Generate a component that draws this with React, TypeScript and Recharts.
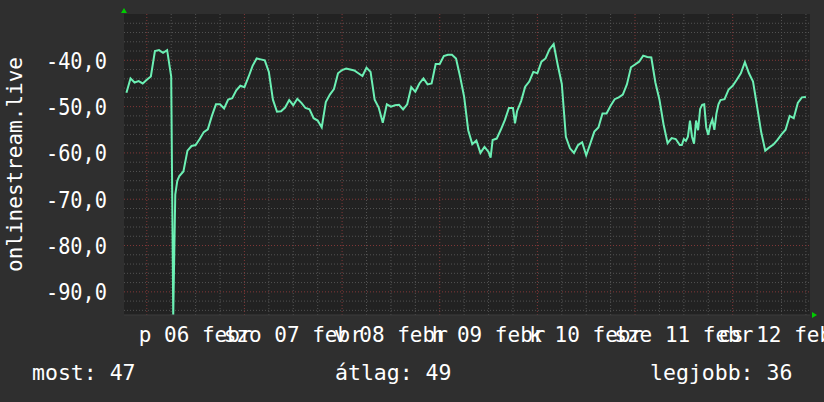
import React from "react";
import {
  LineChart,
  Line,
  XAxis,
  YAxis,
  ReferenceLine,
  ReferenceArea,
  ReferenceDot,
} from "recharts";

// hours counted from 05 Feb 00:00, about one sample an hour (half-hours where the trace is jumpy)
const hours = [
  19, 20, 21, 22, 23, 24, 25, 26, 27, 28, 29, 30, 30.5, 31, 31.5, 32, 33, 34, 35, 36,
  37, 38, 39, 40, 41, 42, 43, 44, 45, 46, 47, 48, 49, 50, 51, 52, 53, 54, 55, 56,
  57, 58, 59, 60, 61, 62, 63, 64, 65, 66, 67, 68, 69, 70, 71, 72, 73, 74, 75, 76,
  77, 78, 79, 80, 81, 82, 83, 84, 85, 86, 87, 88, 89, 90, 91, 92, 93, 94, 95, 96,
  97, 98, 99, 100, 101, 102, 103, 104, 105, 106, 107, 108, 108.5, 109, 110, 111, 112, 113, 114, 114.5,
  115, 116, 117, 118, 119, 120, 121, 122, 123, 124, 125, 126, 127, 128, 129, 130, 131, 132, 133, 134,
  135, 136, 137, 138, 139, 140, 141, 142, 143, 144, 145, 146, 147, 148, 149, 150, 151, 152, 153, 154,
  155, 155.5, 156, 156.5, 157, 157.5, 158, 158.5, 159, 159.5, 160, 160.5, 161, 161.5, 162, 162.5, 163, 163.5, 164, 164.5,
  165, 166, 167, 168, 169, 170, 171, 172, 173, 174, 175, 176, 177, 178, 179, 180, 181, 182, 183, 184,
  185, 186,
];

const signal = [
  -47.0, -43.9, -44.8, -44.5, -45.0, -44.2, -43.5, -38.0, -37.8, -38.4, -37.8, -43.5, -95, -69, -66, -65, -64, -59.5, -58.5, -58.3,
  -57.0, -55.5, -54.9, -52.0, -49.5, -49.5, -50.4, -48.5, -48.2, -46.5, -45.5, -45.8, -43.6, -41.2, -39.6, -39.8, -40.0, -42.5, -48.5, -51.1,
  -51.0, -50.2, -48.6, -49.7, -48.3, -49.2, -50.3, -50.6, -52.5, -53.0, -54.5, -49.0, -47.4, -46.2, -42.8, -42.1, -41.8, -42.0, -42.2, -42.8,
  -43.4, -41.6, -42.5, -48.5, -50.2, -53.5, -49.5, -50.0, -49.7, -49.6, -50.6, -49.5, -45.8, -46.8, -45.0, -43.9, -45.2, -45.0, -40.8, -40.8,
  -39.1, -38.8, -38.8, -39.6, -43.5, -47.9, -55.1, -58.1, -57.3, -60.0, -58.7, -59.8, -61.0, -57.2, -56.9, -55.0, -52.9, -50.3, -50.3, -53.6,
  -51.0, -48.8, -45.7, -44.6, -42.5, -42.8, -40.3, -39.6, -37.6, -36.5, -41.0, -45.1, -56.5, -59.0, -60.0, -58.3, -57.7, -60.5, -58.0, -55.4,
  -54.5, -51.5, -51.5, -49.8, -48.4, -48.0, -47.4, -45.2, -41.5, -40.9, -40.3, -39.0, -39.3, -39.4, -44.8, -48.5, -53.8, -57.9, -56.8, -57.0,
  -58.3, -58.3, -57.0, -57.4, -56.5, -53.0, -56.5, -58.0, -53.0, -55.1, -50.5, -49.6, -49.5, -54.5, -56.1, -54.0, -52.8, -55.0, -51.5, -49.5,
  -48.6, -48.4, -46.3, -45.5, -44.2, -42.8, -40.4, -42.8, -44.6, -50.0, -55.5, -59.5, -58.8, -58.2, -57.2, -56.0, -55.0, -52.0, -52.5, -49.2,
  -48.0, -47.9,
];

const dayTicks = [36, 60, 84, 108, 132, 156, 180];
const dayLabels = ["p 06 febr", "szo 07 febr", "v 08 febr", "h 09 febr", "k 10 febr", "sze 11 febr", "cs 12 febr"];
const midnights = [24, 48, 72, 96, 120, 144, 168];
const sixHours = [30, 36, 42, 54, 60, 66, 78, 84, 90, 102, 108, 114, 126, 132, 138, 150, 156, 162, 174, 180, 186];
const yTicks = [-90, -80, -70, -60, -50, -40];
const yMinor = [
  -94, -92, -88, -86, -84, -82, -78, -76, -74, -72, -68, -66, -64, -62,
  -58, -56, -54, -52, -48, -46, -44, -42, -38, -36, -34, -32,
];
const stats = [
  { label: "most", value: 47 },
  { label: "átlag", value: 49 },
  { label: "legjobb", value: 36 },
];

const X_DOMAIN: [number, number] = [18.4, 187];
const Y_DOMAIN: [number, number] = [-95, -30];
const FONT = "'DejaVu Sans Mono', monospace";
const LINE = "#6cf0b4";
const MINOR = "#535353";
const MAJOR = "#823838";

const fmt = (v: number) => v.toFixed(1).replace(".", ",");

function YTick({ x, y, payload }: any) {
  return (
    <text
      transform={`translate(${x},${y}) scale(1,1.15)`}
      textAnchor="end"
      dy="0.36em"
      fill="#ffffff"
      fontFamily={FONT}
      fontSize={20.3}
    >
      {fmt(payload.value)}
    </text>
  );
}

function XTick({ x, y, payload }: any) {
  const label = dayLabels[dayTicks.indexOf(payload.value)];
  return (
    <text x={x} y={y + 25} textAnchor="middle" fill="#ffffff" fontFamily={FONT} fontSize={21}>
      {label}
    </text>
  );
}

function YLabel({ viewBox }: any) {
  const cx = viewBox.x + 22;
  const cy = viewBox.y + viewBox.height / 2;
  return (
    <text
      x={cx}
      y={cy}
      transform={`rotate(-90 ${cx} ${cy})`}
      textAnchor="middle"
      fill="#ffffff"
      fontFamily={FONT}
      fontSize={21}
    >
      onlinestream.live
    </text>
  );
}

const upArrow = ({ cx, cy }: any) => (
  <polygon points={`${cx},${cy - 6} ${cx - 3},${cy - 1} ${cx + 3},${cy - 1}`} fill="#00cc00" />
);
const rightArrow = ({ cx, cy }: any) => (
  <polygon points={`${cx + 7},${cy} ${cx + 2},${cy - 3} ${cx + 2},${cy + 3}`} fill="#00cc00" />
);

export default function App() {
  const data = hours.map((h, i) => ({ h, v: signal[i] }));
  return (
    <div
      style={{
        position: "absolute",
        left: 0,
        top: 0,
        width: 824,
        height: 402,
        background: "#2f2f2f",
        fontFamily: FONT,
      }}
    >
      <LineChart width={824} height={402} data={data} margin={{ top: 14, right: 14, bottom: 57, left: 0 }}>
        <XAxis
          type="number"
          dataKey="h"
          domain={X_DOMAIN}
          allowDataOverflow
          ticks={dayTicks}
          interval={0}
          tick={<XTick />}
          tickLine={false}
          tickSize={0}
          axisLine={{ stroke: "#3c3c3c" }}
          height={30}
        />
        <YAxis
          type="number"
          domain={Y_DOMAIN}
          allowDataOverflow
          ticks={yTicks}
          interval={0}
          tick={<YTick />}
          tickLine={false}
          tickSize={0}
          tickMargin={17}
          axisLine={false}
          width={124}
          label={(props: any) => <YLabel {...props} />}
        />
        <ReferenceArea
          x1={X_DOMAIN[0]}
          x2={X_DOMAIN[1]}
          y1={Y_DOMAIN[0]}
          y2={Y_DOMAIN[1]}
          fill="#222222"
          fillOpacity={1}
          stroke="none"
        />
        {yMinor.map((v) => (
          <ReferenceLine key={`ym${v}`} y={v} stroke={MINOR} strokeDasharray="1 2" />
        ))}
        {sixHours.map((h) => (
          <ReferenceLine key={`xm${h}`} x={h} stroke={MINOR} strokeDasharray="1 2" />
        ))}
        {yTicks.map((v) => (
          <ReferenceLine key={`yM${v}`} y={v} stroke={MAJOR} strokeDasharray="1 2" />
        ))}
        {midnights.map((h) => (
          <ReferenceLine key={`xM${h}`} x={h} stroke={MAJOR} strokeDasharray="1 2" />
        ))}
        <Line
          type="linear"
          dataKey="v"
          stroke={LINE}
          strokeWidth={2}
          dot={false}
          activeDot={false}
          isAnimationActive={false}
        />
        <ReferenceDot x={X_DOMAIN[0]} y={Y_DOMAIN[1]} ifOverflow="visible" shape={upArrow} />
        <ReferenceDot x={X_DOMAIN[1]} y={Y_DOMAIN[0]} ifOverflow="visible" shape={rightArrow} />
      </LineChart>
      {stats.map((s, i) => (
        <div
          key={s.label}
          style={{
            position: "absolute",
            top: 360,
            left: [32, 335, 650][i],
            color: "#ffffff",
            fontSize: 21.5,
            lineHeight: "26px",
            whiteSpace: "pre",
          }}
        >
          {`${s.label}: ${s.value}`}
        </div>
      ))}
    </div>
  );
}
